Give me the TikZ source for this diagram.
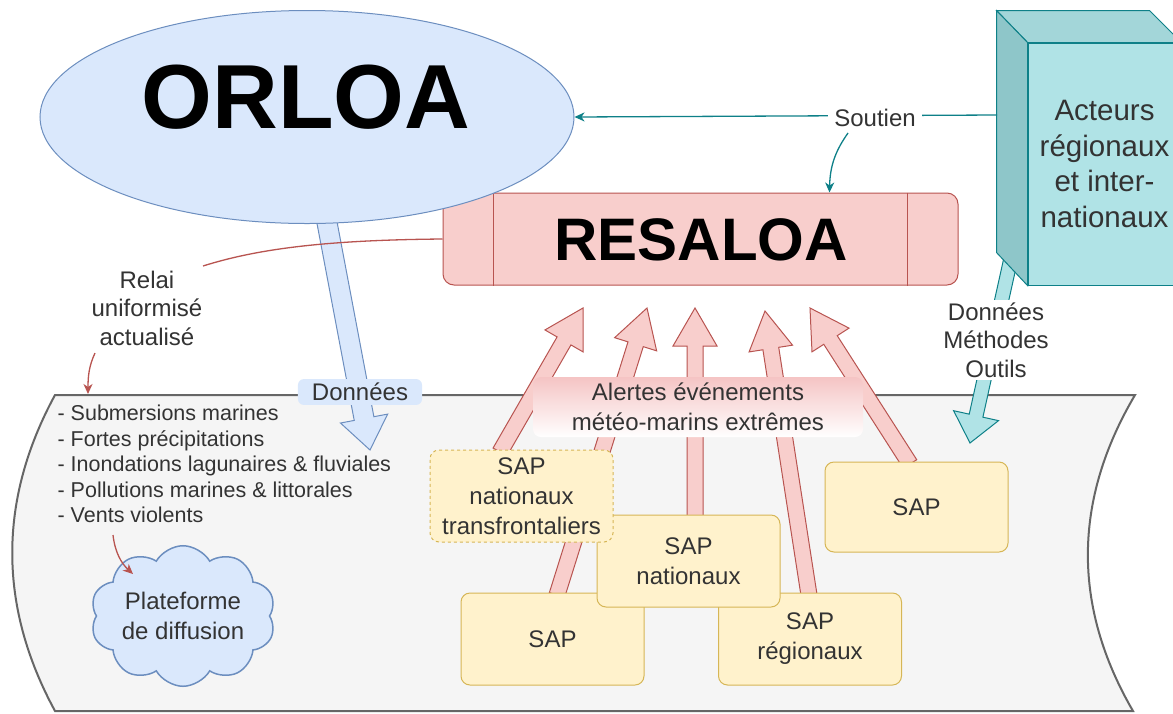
\documentclass[tikz,border=0pt]{standalone}
\usepackage{fontspec}
\setmainfont{Liberation Sans}
\usetikzlibrary{calc,arrows.meta,shapes.symbols,shapes.geometric}
\definecolor{bluefill}{HTML}{DAE8FC}
\definecolor{bluestroke}{HTML}{6C8EBF}
\definecolor{redfill}{HTML}{F8CECC}
\definecolor{redstroke}{HTML}{B85450}
\definecolor{sapfill}{HTML}{FFF2CC}
\definecolor{sapstroke}{HTML}{D6B656}
\definecolor{cyanfill}{HTML}{B0E3E6}
\definecolor{cyanstroke}{HTML}{0E8088}
\definecolor{cyanside}{HTML}{8EC6C9}
\definecolor{cyantop}{HTML}{A3D6D9}
\definecolor{bandfill}{HTML}{F5F5F5}
\definecolor{bandstroke}{HTML}{666666}
\definecolor{txtgray}{HTML}{333333}
\definecolor{pinkshade}{HTML}{F5C4C4}
\newcommand\flexarr[6]{%
  \coordinate (fxH) at ($(#3)!#6!(#2)$);
  \filldraw[#1] ($(#2)!#4!90:(#3)$) -- ($(fxH)!#4!90:(#3)$) -- ($(fxH)!#5!90:(#3)$) -- (#3) -- ($(fxH)!#5!-90:(#3)$) -- ($(fxH)!#4!-90:(#3)$) -- ($(#2)!#4!-90:(#3)$) -- cycle;
}
\tikzset{
  txt/.style={text=txtgray, align=center, inner sep=0pt, font=\fontsize{24}{30}\selectfont},
  sapbox/.style={draw=sapstroke, fill=sapfill, rounded corners=9pt, minimum width=183pt, minimum height=92pt, line width=1pt, txt},
  pinkarr/.style={fill=redfill, draw=redstroke, line width=1pt},
  bluearr/.style={fill=bluefill, draw=bluestroke, line width=1pt},
  cyanarr/.style={fill=cyanfill, draw=cyanstroke, line width=1pt},
  tealedge/.style={draw=cyanstroke, line width=1.3pt},
  rededge/.style={draw=redstroke, line width=1.3pt},
  tip/.style={-{Stealth[length=10pt,width=9pt,inset=3pt]}}
}
\begin{document}
\begin{tikzpicture}[x=1pt,y=-1pt,line width=1.2pt]
\useasboundingbox (0,0) rectangle (1173,713);
\fill[white] (0,0) rectangle (1173,713);
\clip (0,0) rectangle (1173,713);

% band
\draw[fill=bandfill, draw=bandstroke, line width=2pt] (55,395) -- (1135,395) .. controls (1073,500) and (1072,606) .. (1133,711) -- (55,711) .. controls (-2,606) and (-2,500) .. (55,395) -- cycle;

% RESALOA
\node[draw=redstroke, fill=redfill, rounded corners=11pt, minimum width=515pt, minimum height=92pt, line width=1pt, inner sep=0pt] (res) at (700.5,239) {};
\draw[draw=redstroke, line width=1pt] ([xshift=51pt]res.north west) -- ([xshift=51pt]res.south west);
\draw[draw=redstroke, line width=1pt] ([xshift=-51pt]res.north east) -- ([xshift=-51pt]res.south east);
\node[inner sep=0pt, font=\bfseries\fontsize{60}{60}\selectfont] (restxt) at (701,240) {RESALOA};

% blue arrow ORLOA -> band
\coordinate (bls) at (325,212);
\coordinate (blt) at (370,450);
\flexarr{bluearr}{bls}{blt}{10pt}{24pt}{32pt}

% ORLOA
\node[ellipse, draw=bluestroke, fill=bluefill, line width=1pt, minimum width=534pt, minimum height=213pt, inner sep=0pt] (orloa) at (307,117) {};
\node[inner sep=0pt, font=\bfseries\fontsize{91}{91}\selectfont] (orloatxt) at (306,97) {ORLOA};

% cyan arrow
\coordinate (cys) at (1011,258);
\coordinate (cyt) at (970,443);
\flexarr{cyanarr}{cys}{cyt}{7pt}{23pt}{28pt}

% cube
\node[draw=cyanstroke, fill=cyanfill, minimum width=153pt, minimum height=242pt, line width=1pt, txt, font=\fontsize{29.5}{35.7}\selectfont] (act) at (1104.5,164) {Acteurs\\régionaux\\et inter-\\nationaux};
\filldraw[fill=cyantop, draw=cyanstroke, line width=1pt] (act.north west) -- ++(-31,-32) -- ++(153,0) -- (act.north east) -- cycle;
\filldraw[fill=cyanside, draw=cyanstroke, line width=1pt] (act.north west) -- ++(-31,-32) -- ++(0,242) -- (act.south west) -- cycle;

% Soutien
\coordinate (actside) at (997,115);
\draw[tealedge, tip] (actside) -- (orloa.east);
\node[txt, fill=white, inner xsep=6pt, inner ysep=3pt] (sout) at (875,118) {Soutien};
\coordinate (soutb) at (848,133);
\draw[tealedge, tip] (soutb) .. controls (836,150) and (830,165) .. ([xshift=129pt]res.north);

% Relai
\node[txt, font=\fontsize{24}{28.5}\selectfont] (relai) at (147,308) {Relai\\uniformisé\\actualisé};
\coordinate (relend) at (203,266);
\draw[rededge] (res.west) .. controls (330,240) and (260,248) .. (relend);
\coordinate (relb) at (95,353);
\coordinate (bandtop) at (88,394);
\draw[rededge, tip] (relb) .. controls (89,366) and (88,376) .. (bandtop);

% list
\node[txt, font=\fontsize{21.5}{25.5}\selectfont, align=left, anchor=west] (list) at (57,464) {- Submersions marines\\- Fortes précipitations\\- Inondations lagunaires \& fluviales\\- Pollutions marines \& littorales\\- Vents violents};

% cloud
\node[cloud, cloud puffs=10, cloud puff arc=120, aspect=1.5, draw=bluestroke, fill=bluefill, line width=1.5pt, minimum width=180pt, minimum height=118pt, txt] (cloud) at (183,616) {Plateforme\\de diffusion};
\coordinate (listb) at (113,535);
\coordinate (cloudtop) at (133,574);
\draw[rededge, tip] (listb) .. controls (115,552) and (121,563) .. (cloudtop);

% SAP boxes positions
\coordinate (a1s) at (500,452);
\coordinate (a1t) at (583,308);
\coordinate (a2s) at (557,595);
\coordinate (a2t) at (647,308);
\coordinate (a3s) at (695,517);
\coordinate (a3t) at (695,308);
\coordinate (a4s) at (809,595);
\coordinate (a4t) at (765,311);
\coordinate (a5s) at (910,464);
\coordinate (a5t) at (810,308);
\flexarr{pinkarr}{a1s}{a1t}{8pt}{22pt}{38pt}
\flexarr{pinkarr}{a2s}{a2t}{8pt}{22pt}{38pt}
\flexarr{pinkarr}{a3s}{a3t}{8pt}{22pt}{38pt}
\flexarr{pinkarr}{a4s}{a4t}{8pt}{22pt}{38pt}
\flexarr{pinkarr}{a5s}{a5t}{8pt}{22pt}{38pt}

\node[sapbox] (sapl) at (552.5,639) {SAP};
\node[sapbox] (reg) at (810,639) {SAP\\régionaux};
\node[sapbox] (nat) at (688.5,561) {SAP\\nationaux};
\node[sapbox, dashed] (tf) at (521.5,496) {SAP\\nationaux\\transfrontaliers};
\node[sapbox, minimum height=90pt] (sapr) at (916.5,507) {SAP};

% labels
\node[txt, fill=bluefill, rounded corners=6pt, inner xsep=14pt, inner ysep=4pt] (don) at (360,392) {Données};
\node[txt, top color=pinkshade, bottom color=white, rounded corners=8pt, minimum width=330pt, minimum height=60pt] (alert) at (698,407) {Alertes événements\\météo-marins extrêmes};
\node[txt, fill=white, font=\fontsize{24}{28.5}\selectfont, inner sep=3pt] (dmo) at (996,340) {Données\\Méthodes\\Outils};
\end{tikzpicture}
\end{document}
